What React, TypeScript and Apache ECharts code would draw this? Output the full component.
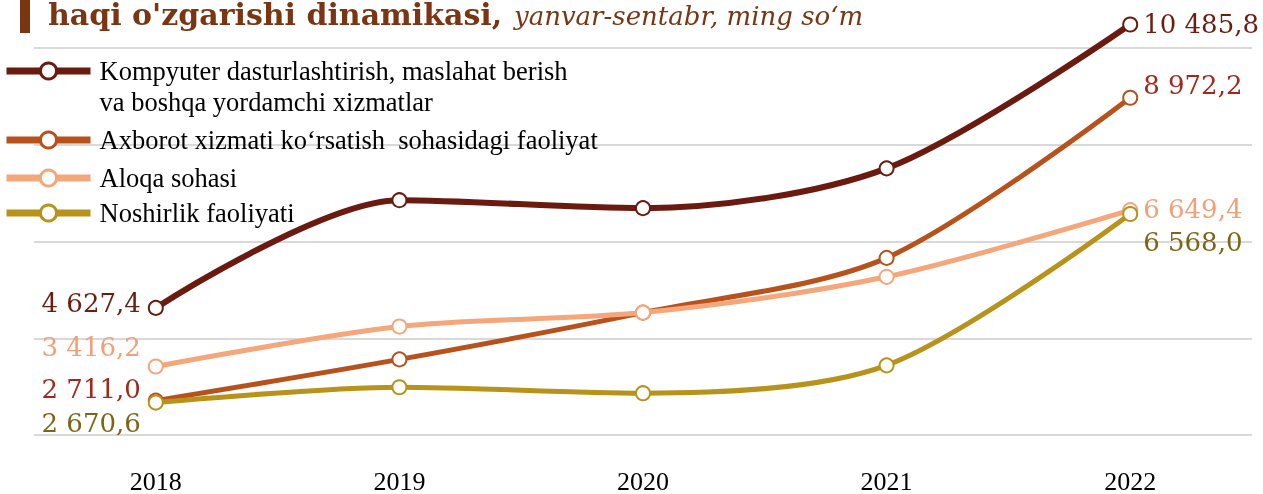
import React, { useEffect, useRef } from 'react';
import * as echarts from 'echarts';

const years = ['2018', '2019', '2020', '2021', '2022'];
const seriesNames = [
  'Kompyuter dasturlashtirish, maslahat berish\nva boshqa yordamchi xizmatlar',
  'Axborot xizmati ko‘rsatish  sohasidagi faoliyat',
  'Aloqa sohasi',
  'Noshirlik faoliyati',
];
const kompyuter = [4627.4, 6854, 6689, 7512, 10485.8];
const axborot = [2711.0, 3563, 4530, 5661, 8972.2];
const aloqa = [3416.2, 4242, 4530, 5270, 6649.4];
const noshirlik = [2670.6, 2987, 2864, 3440, 6568.0];
const allValues = [kompyuter, axborot, aloqa, noshirlik];

const titleMain = "haqi o'zgarishi dinamikasi,";
const titleSub = 'yanvar-sentabr, ming so‘m';

const lineColors = ['#6b1a10', '#b8521c', '#f4a77b', '#b8931c'];
const labelColors = ['#6b1d10', '#a3281c', '#f2a077', '#7d6515'];
const lineWidths = [6, 5, 5, 5];
// label offsets [first point, last point]
const firstOffsets = [[0, -5], [0, -12], [0, -19], [0, 20]];
const lastOffsets = [[0, 0], [0, -13], [0, -1], [0, 28]];
const legendTops = [24.5, 124.5, 162.5, 197.5];

function fmt(v: number): string {
  const [i, d] = v.toFixed(1).split('.');
  return i.replace(/\B(?=(\d{3})+(?!\d))/g, ' ') + ',' + d;
}

export default function App() {
  const ref = useRef<HTMLDivElement>(null);
  useEffect(() => {
    if (!ref.current) return;
    const chart = echarts.init(ref.current, null, { renderer: 'svg' });
    const labelBase = {
      show: true,
      fontFamily: 'DejaVu Serif',
      fontSize: 26,
    };
    const series = allValues.map((vals, si) => ({
      name: seriesNames[si],
      type: 'line',
      smooth: 0.3,
      clip: false,
      symbol: 'circle',
      symbolSize: 14,
      color: lineColors[si],
      lineStyle: { color: lineColors[si], width: lineWidths[si] },
      itemStyle: { color: '#ffffff', borderColor: lineColors[si], borderWidth: 2 },
      z: 2 + si,
      data: vals.map((v, i) => {
        if (i === 0) {
          return {
            value: v,
            label: {
              ...labelBase,
              color: labelColors[si],
              position: 'left',
              distance: 7,
              offset: firstOffsets[si],
              formatter: fmt(v),
            },
          };
        }
        if (i === vals.length - 1) {
          return {
            value: v,
            label: {
              ...labelBase,
              color: labelColors[si],
              position: 'right',
              distance: 5,
              offset: lastOffsets[si],
              formatter: fmt(v),
            },
          };
        }
        return v;
      }),
    }));
    const legendText = {
      fontFamily: 'Liberation Serif',
      fontSize: 26.5,
      color: '#000000',
      lineHeight: 31,
    };
    const legends = seriesNames.map((name, si) => ({
      show: true,
      data: [name],
      orient: 'vertical',
      left: 3,
      top: legendTops[si],
      padding: 0,
      itemWidth: 84,
      itemHeight: 20,
      selectedMode: false,
      formatter: (n: string) =>
        (si === 0 ? '\n' : '') +
        n
          .split('\n')
          .map((line) => '{t|' + line + '}')
          .join('\n'),
      lineStyle: { color: lineColors[si], width: 7 },
      itemStyle: { color: '#ffffff', borderColor: lineColors[si], borderWidth: 3 },
      textStyle: {
        ...legendText,
        rich: { t: { ...legendText, padding: [0, 0, 0, 4] } },
      },
    }));
    chart.setOption({
      animation: false,
      grid: { left: 34, right: 11, top: 48, bottom: 57 },
      legend: legends,
      xAxis: {
        type: 'category',
        data: years,
        boundaryGap: true,
        axisLine: { show: false },
        axisTick: { show: false },
        axisLabel: {
          margin: 33,
          fontFamily: 'Liberation Serif',
          fontSize: 26,
          color: '#000000',
        },
      },
      yAxis: {
        type: 'value',
        min: 2000,
        max: 10000,
        interval: 2000,
        axisLabel: { show: false },
        axisLine: { show: false },
        axisTick: { show: false },
        splitLine: { lineStyle: { color: '#d9d9d9', width: 2 } },
      },
      graphic: [
        { type: 'rect', left: 20, top: 0, shape: { width: 10, height: 33 }, style: { fill: '#7a3512' } },
        {
          type: 'text',
          x: 48,
          y: 29,
          style: {
            text: titleMain,
            fontFamily: 'DejaVu Serif',
            fontWeight: 'bold',
            fontSize: 30,
            fill: '#7a3512',
            verticalAlign: 'bottom',
          },
        },
        {
          type: 'text',
          x: 514,
          y: 28.5,
          style: {
            text: titleSub,
            fontFamily: 'DejaVu Serif',
            fontStyle: 'italic',
            fontSize: 26,
            fill: '#7a3512',
            verticalAlign: 'bottom',
          },
        },
      ],
      series,
    });
    return () => chart.dispose();
  }, []);
  return (
    <div
      ref={ref}
      style={{ position: 'fixed', left: 0, top: 0, width: 1263, height: 494 }}
    />
  );
}
